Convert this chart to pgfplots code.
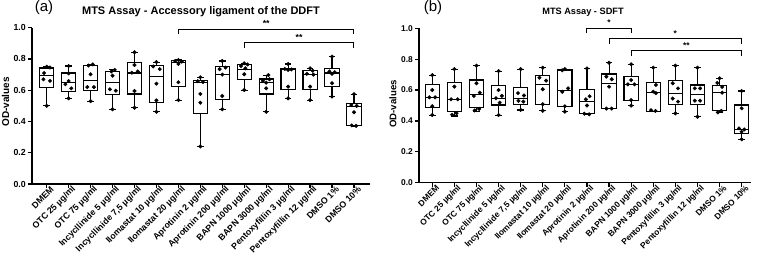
\documentclass[border=0pt]{standalone}
\usepackage{fontspec}
\setmainfont{Liberation Sans}
\usepackage{pgfplots}
\pgfplotsset{compat=1.18}
\usepgfplotslibrary{statistics}

\newcommand{\tf}{\fontsize{8.8}{9.5}\selectfont\bfseries}
\newcommand{\tfb}{\fontsize{8.4}{9.2}\selectfont\bfseries}
\newcommand{\bx}[6]{\addplot[black, line width=1.1pt, boxplot prepared={draw position=#1, lower whisker=#2, lower quartile=#3, median=#4, upper quartile=#5, upper whisker=#6}] coordinates {};}

\pgfplotsset{myax/.style={
  scale only axis, ymin=0, ymax=1,
  ytick={0,0.2,0.4,0.6,0.8,1},
  /pgf/number format/fixed, /pgf/number format/fixed zerofill,
  /pgf/number format/precision=1, /pgf/number format/assume math mode=true,
  tick label style={font=\tf},
  axis x line*=bottom, axis y line*=left,
  axis line style={line width=1.5pt},
  tick style={line width=1.2pt, black},
  tick align=outside, major tick length=4pt,
  xtick={0,...,14},
  xticklabels={DMEM, OTC 25 µg/ml, OTC 75 µg/ml, Incycllinide 5 µg/ml, {Incycllinide 7,5 µg/ml}, Ilomastat 10 µg/ml, Ilomastat 20 µg/ml, Aprotinin 2 µg/ml, Aprotinin 200 µg/ml, BAPN 1000 µg/ml, BAPN 3000 µg/ml, Pentoxyfillin 3 µg/ml, Pentoxyfillin 12 µg/ml, DMSO 1\%, DMSO 10\%},
  xticklabel style={rotate=45, anchor=east, inner sep=1pt, xshift=5pt, yshift=-4pt},
  yticklabel style={inner sep=2pt},
  boxplot/draw direction=y,
  boxplot/box extend=0.65, boxplot/whisker extend=0.3,
  clip=false,
}}

\begin{document}
\begin{tikzpicture}
\useasboundingbox (0,0) rectangle (758pt,261pt);

% ---------------- panel (a)
\begin{axis}[myax, at={(32pt,77pt)}, anchor=south west, width=338pt, height=156.3pt, xmin=-0.67, xmax=14.73]
\bx{0}{0.50}{0.62}{0.693}{0.742}{0.75}
\bx{1}{0.548}{0.593}{0.648}{0.71}{0.755}
\bx{2}{0.53}{0.60}{0.66}{0.76}{0.765}
\bx{3}{0.478}{0.571}{0.648}{0.72}{0.73}
\bx{4}{0.488}{0.576}{0.71}{0.778}{0.843}
\bx{5}{0.462}{0.522}{0.685}{0.757}{0.78}
\bx{6}{0.537}{0.623}{0.78}{0.79}{0.793}
\bx{7}{0.24}{0.452}{0.652}{0.66}{0.683}
\bx{8}{0.478}{0.54}{0.702}{0.75}{0.787}
\bx{9}{0.601}{0.67}{0.735}{0.765}{0.772}
\bx{10}{0.462}{0.576}{0.65}{0.672}{0.697}
\bx{11}{0.548}{0.606}{0.732}{0.736}{0.768}
\bx{12}{0.537}{0.602}{0.703}{0.724}{0.74}
\bx{13}{0.559}{0.623}{0.71}{0.74}{0.815}
\bx{14}{0.37}{0.373}{0.495}{0.516}{0.574}
\addplot[only marks, mark=*, mark size=1.8pt, black] coordinates {
(0,0.75)(0.15,0.745)(-0.12,0.71)(-0.15,0.67)(0.15,0.66)(0,0.50)
(1,0.755)(1,0.708)(1,0.659)(0.85,0.638)(1.12,0.612)(1,0.548)
(2.1,0.765)(1.9,0.758)(2,0.702)(1.85,0.62)(2.15,0.62)(2,0.53)
(3.1,0.73)(2.95,0.72)(3,0.693)(2.88,0.606)(3.15,0.597)(3,0.478)
(4,0.843)(4,0.761)(4.15,0.72)(3.88,0.712)(4,0.595)(4,0.488)
(5,0.78)(4.85,0.752)(5.15,0.735)(5,0.642)(5,0.535)(5,0.462)
(6,0.793)(5.85,0.787)(6.15,0.783)(6,0.768)(6,0.651)(6,0.537)
(7,0.683)(6.88,0.658)(7.12,0.652)(7,0.576)(7,0.52)(7,0.24)
(8,0.787)(8.15,0.745)(7.88,0.735)(8,0.70)(8,0.563)(8,0.478)
(9,0.772)(9.15,0.765)(8.85,0.755)(9.05,0.74)(9,0.702)(9,0.601)
(10.1,0.697)(10.15,0.67)(9.85,0.66)(10,0.648)(10,0.612)(10,0.462)
(11,0.768)(10.85,0.736)(11.15,0.733)(11,0.73)(11,0.623)(11,0.548)
(12,0.74)(12.12,0.725)(11.85,0.705)(12.15,0.70)(12,0.623)(12,0.537)
(13,0.815)(12.88,0.72)(13.12,0.715)(13,0.705)(13,0.645)(13,0.559)
(14,0.574)(13.88,0.505)(14.12,0.50)(14,0.459)(13.9,0.375)(14.1,0.372)
};
\draw[line width=1pt] (axis cs:6,0.958) |- (axis cs:14,0.99) -- (axis cs:14,0.958);
\node[font=\tf] at (axis cs:10,1.025) {**};
\draw[line width=1pt] (axis cs:9,0.872) |- (axis cs:14,0.905) -- (axis cs:14,0.872);
\node[font=\tf] at (axis cs:11.5,0.94) {**};
\end{axis}

% ---------------- panel (b)
\begin{axis}[myax, tick label style={font=\tfb}, at={(419pt,78.3pt)}, anchor=south west, width=331.7pt, height=154.4pt, xmin=-0.6, xmax=14.41]
\bx{0}{0.438}{0.488}{0.553}{0.637}{0.697}
\bx{1}{0.432}{0.46}{0.54}{0.648}{0.736}
\bx{2}{0.464}{0.486}{0.572}{0.665}{0.758}
\bx{3}{0.438}{0.503}{0.547}{0.628}{0.723}
\bx{4}{0.471}{0.508}{0.547}{0.615}{0.736}
\bx{5}{0.466}{0.508}{0.637}{0.693}{0.745}
\bx{6}{0.46}{0.492}{0.60}{0.73}{0.736}
\bx{7}{0.44}{0.45}{0.528}{0.605}{0.74}
\bx{8}{0.48}{0.48}{0.645}{0.704}{0.777}
\bx{9}{0.499}{0.531}{0.637}{0.687}{0.767}
\bx{10}{0.46}{0.464}{0.585}{0.65}{0.745}
\bx{11}{0.449}{0.508}{0.578}{0.661}{0.758}
\bx{12}{0.427}{0.508}{0.57}{0.633}{0.745}
\bx{13}{0.453}{0.466}{0.583}{0.628}{0.676}
\bx{14}{0.281}{0.32}{0.345}{0.503}{0.594}
\addplot[only marks, mark=*, mark size=1.8pt, black] coordinates {
(0,0.697)(-0.13,0.553)(0.13,0.553)(0,0.60)(0,0.495)(0,0.438)
(1,0.736)(1,0.622)(0.85,0.54)(1.15,0.54)(1.1,0.45)(0.9,0.44)
(2,0.758)(2,0.644)(2.15,0.583)(1.88,0.562)(2.12,0.478)(1.92,0.468)
(3,0.723)(3,0.60)(3.15,0.562)(2.88,0.547)(3.05,0.518)(3,0.438)
(4,0.736)(3.88,0.58)(4.15,0.565)(3.9,0.53)(4.12,0.525)(4,0.471)
(5,0.745)(4.85,0.68)(5.15,0.661)(5,0.605)(5,0.508)(5,0.466)
(6,0.736)(5.88,0.728)(6.15,0.611)(5.88,0.589)(6,0.495)(6,0.46)
(7,0.74)(7.12,0.56)(6.95,0.54)(7,0.50)(6.88,0.447)(7.1,0.443)
(8,0.777)(7.88,0.687)(8.12,0.67)(8,0.622)(7.88,0.48)(8.12,0.48)
(9,0.767)(9,0.665)(8.85,0.637)(9.15,0.637)(9,0.535)(9,0.499)
(10,0.745)(10.12,0.633)(10,0.59)(10.12,0.58)(9.9,0.47)(10.1,0.465)
(11,0.758)(10.88,0.644)(11.12,0.611)(10.88,0.545)(11.12,0.525)(11,0.449)
(12,0.745)(11.88,0.611)(12.12,0.611)(11.88,0.531)(12.12,0.531)(12,0.427)
(13,0.676)(12.9,0.646)(13.12,0.62)(13.12,0.583)(13.08,0.465)(12.92,0.455)
(14,0.594)(14,0.482)(13.88,0.352)(14.12,0.345)(14,0.33)(14,0.281)
};
\draw[line width=1pt] (axis cs:7,0.968) |- (axis cs:9,1.0) -- (axis cs:9,0.968);
\node[font=\tfb] at (axis cs:8,1.035) {*};
\draw[line width=1pt] (axis cs:8,0.898) |- (axis cs:14,0.931) -- (axis cs:14,0.898);
\node[font=\tfb] at (axis cs:11,0.965) {*};
\draw[line width=1pt] (axis cs:9,0.823) |- (axis cs:14,0.855) -- (axis cs:14,0.823);
\node[font=\tfb] at (axis cs:11.5,0.89) {**};
\end{axis}

% ---------------- titles and labels
\node[font=\fontsize{15}{17}\selectfont] at (44pt,253pt) {(a)};
\node[font=\fontsize{11}{13}\selectfont\bfseries] at (201pt,249pt) {MTS Assay - Accessory ligament of the DDFT};
\node[rotate=90, font=\fontsize{10}{11}\selectfont\bfseries] at (5.5pt,159pt) {OD-values};
\node[font=\fontsize{15}{17}\selectfont] at (433pt,253pt) {(b)};
\node[font=\fontsize{9.2}{11}\selectfont\bfseries] at (583pt,249pt) {MTS Assay - SDFT};
\node[rotate=90, font=\fontsize{9.6}{11}\selectfont\bfseries] at (393pt,157pt) {OD-values};
\end{tikzpicture}
\end{document}
